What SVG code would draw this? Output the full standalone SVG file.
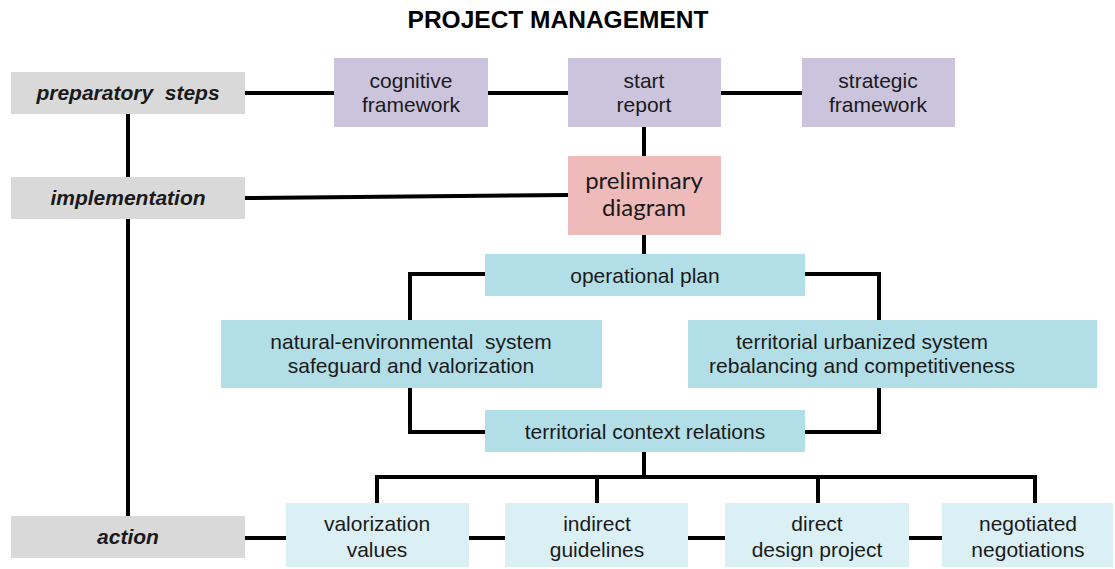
<svg xmlns="http://www.w3.org/2000/svg" width="1115" height="569" viewBox="0 0 1115 569">
<style>
text{font-family:"Liberation Sans",Arial,sans-serif;font-size:21px;fill:#1a1a1a;text-anchor:middle}
.title{font-weight:bold;font-size:24.5px;fill:#000}
.lbl{font-weight:bold;font-style:italic}
.pre{font-family:Lato,"Noto Sans",sans-serif;font-size:24px}
.gray{fill:#d9d9d9}
.purple{fill:#ccc4dc}
.pink{fill:#efbaba}
.cyan{fill:#b2dfe7}
.lcyan{fill:#daf0f5}
.conn{fill:none;stroke:#000;stroke-width:4}
</style>
<rect width="1115" height="569" fill="#fff"/>
<text class="title" x="558" y="28">PROJECT MANAGEMENT</text>
<g id="connectors" class="conn">
<line x1="128" y1="114" x2="128" y2="177"/>
<line x1="128" y1="219" x2="128" y2="516"/>
<line x1="245" y1="93" x2="334" y2="93"/>
<line x1="488" y1="93" x2="568" y2="93"/>
<line x1="721" y1="93" x2="802" y2="93"/>
<line x1="245" y1="198" x2="568" y2="195"/>
<line x1="644" y1="127" x2="644" y2="156"/>
<line x1="644" y1="235" x2="644" y2="254"/>
<polyline points="485,274 410,274 410,320"/>
<polyline points="805,274 879,274 879,320"/>
<polyline points="410,388 410,432 485,432"/>
<polyline points="879,388 879,432 805,432"/>
<line x1="644" y1="452" x2="644" y2="477"/>
<polyline points="377,503 377,477 1035,477 1035,503"/>
<line x1="597" y1="477" x2="597" y2="503"/>
<line x1="818" y1="477" x2="818" y2="503"/>
<line x1="245" y1="538" x2="286" y2="538"/>
<line x1="469" y1="538" x2="505" y2="538"/>
<line x1="688" y1="538" x2="725" y2="538"/>
<line x1="909" y1="538" x2="942" y2="538"/>
</g>
<g id="preparatory">
<rect class="gray" x="11" y="72" width="234" height="42"/>
<text class="lbl" x="128" y="100" xml:space="preserve">preparatory  steps</text>
</g>
<g id="implementation">
<rect class="gray" x="11" y="177" width="234" height="42"/>
<text class="lbl" x="128" y="205">implementation</text>
</g>
<g id="action">
<rect class="gray" x="11" y="516" width="234" height="42"/>
<text class="lbl" x="128" y="544">action</text>
</g>
<g id="cognitive">
<rect class="purple" x="334" y="58" width="154" height="69"/>
<text x="411" y="88">cognitive</text>
<text x="411" y="112">framework</text>
</g>
<g id="start">
<rect class="purple" x="568" y="58" width="153" height="69"/>
<text x="644" y="88">start</text>
<text x="644" y="112">report</text>
</g>
<g id="strategic">
<rect class="purple" x="802" y="58" width="153" height="69"/>
<text x="878" y="88">strategic</text>
<text x="878" y="112">framework</text>
</g>
<g id="preliminary">
<rect class="pink" x="568" y="156" width="153" height="79"/>
<text class="pre" x="644" y="189">preliminary</text>
<text class="pre" x="644" y="216">diagram</text>
</g>
<g id="operational">
<rect class="cyan" x="485" y="254" width="320" height="42"/>
<text x="645" y="283">operational plan</text>
</g>
<g id="natural">
<rect class="cyan" x="221" y="320" width="381" height="68"/>
<text x="411" y="349" xml:space="preserve">natural-environmental  system</text>
<text x="411" y="373">safeguard and valorization</text>
</g>
<g id="urbanized">
<rect class="cyan" x="688" y="320" width="409" height="68"/>
<text x="862" y="349">territorial urbanized system</text>
<text x="862" y="373">rebalancing and competitiveness</text>
</g>
<g id="context">
<rect class="cyan" x="485" y="410" width="320" height="42"/>
<text x="645" y="439">territorial context relations</text>
</g>
<g id="valorization">
<rect class="lcyan" x="286" y="503" width="183" height="64"/>
<text x="377" y="531">valorization</text>
<text x="377" y="557">values</text>
</g>
<g id="indirect">
<rect class="lcyan" x="505" y="503" width="183" height="64"/>
<text x="597" y="531">indirect</text>
<text x="597" y="557">guidelines</text>
</g>
<g id="direct">
<rect class="lcyan" x="725" y="503" width="184" height="64"/>
<text x="817" y="531">direct</text>
<text x="817" y="557">design project</text>
</g>
<g id="negotiated">
<rect class="lcyan" x="942" y="503" width="171" height="64"/>
<text x="1028" y="531">negotiated</text>
<text x="1028" y="557">negotiations</text>
</g>
</svg>
